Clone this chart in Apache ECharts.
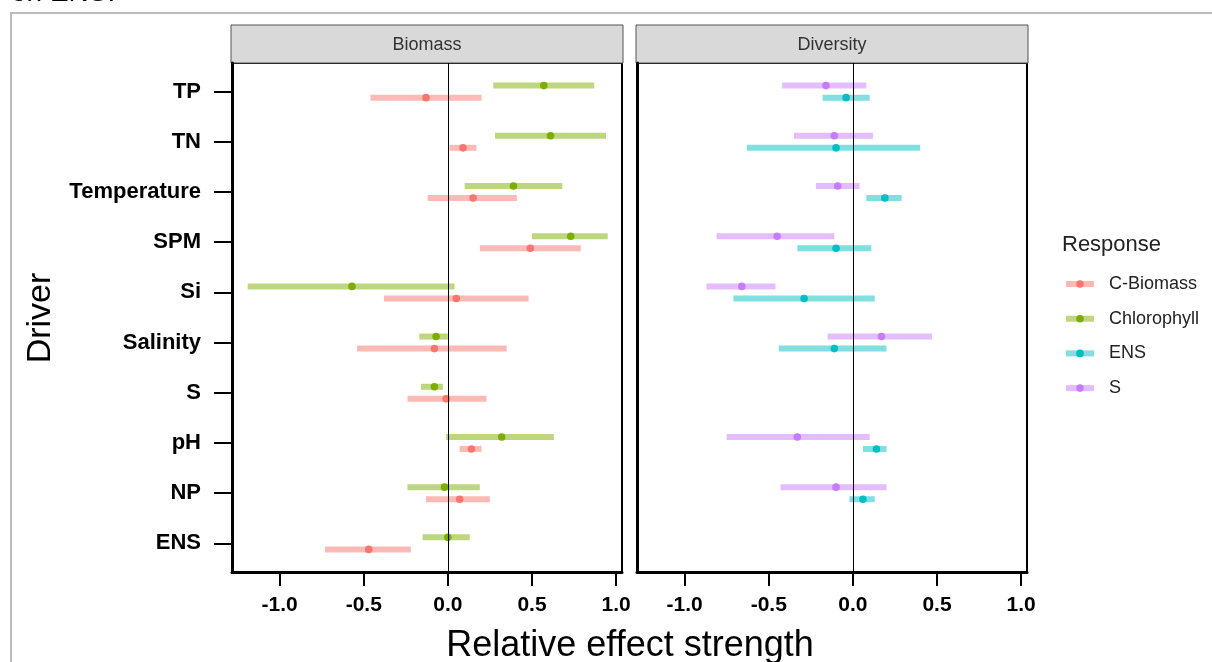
<!DOCTYPE html>
<html>
<head>
<meta charset="utf-8">
<script src="https://cdn.jsdelivr.net/npm/echarts@6/dist/echarts.min.js"></script>
<style>
  html, body { margin: 0; padding: 0; background: #fff; }
  #chart { width: 1212px; height: 662px; }
</style>
</head>
<body>
<div id="chart"></div>
<script>
// drivers, top to bottom
const drivers = ['TP', 'TN', 'Temperature', 'SPM', 'Si', 'Salinity', 'S', 'pH', 'NP', 'ENS']
const xTicks = [-1, -0.5, 0, 0.5, 1]

// Biomass panel
const cBiomassMid = [-0.13, 0.09, 0.15, 0.49, 0.05, -0.08, -0.01, 0.14, 0.07, -0.47]
const cBiomassLo = [-0.46, 0.01, -0.12, 0.19, -0.38, -0.54, -0.24, 0.07, -0.13, -0.73]
const cBiomassHi = [0.20, 0.17, 0.41, 0.79, 0.48, 0.35, 0.23, 0.20, 0.25, -0.22]
const chlMid = [0.57, 0.61, 0.39, 0.73, -0.57, -0.07, -0.08, 0.32, -0.02, 0.00]
const chlLo = [0.27, 0.28, 0.10, 0.50, -1.19, -0.17, -0.16, -0.01, -0.24, -0.15]
const chlHi = [0.87, 0.94, 0.68, 0.95, 0.04, 0.00, -0.03, 0.63, 0.19, 0.13]

// Diversity panel (no estimate for S and ENS as drivers)
const ensMid = [-0.04, -0.10, 0.19, -0.10, -0.29, -0.11, null, 0.14, 0.06, null]
const ensLo = [-0.18, -0.63, 0.08, -0.33, -0.71, -0.44, null, 0.06, -0.02, null]
const ensHi = [0.10, 0.40, 0.29, 0.11, 0.13, 0.20, null, 0.20, 0.13, null]
const sMid = [-0.16, -0.11, -0.09, -0.45, -0.66, 0.17, null, -0.33, -0.10, null]
const sLo = [-0.42, -0.35, -0.22, -0.81, -0.87, -0.15, null, -0.75, -0.43, null]
const sHi = [0.08, 0.12, 0.04, -0.11, -0.46, 0.47, null, 0.10, 0.20, null]

const responses = ['C-Biomass', 'Chlorophyll', 'ENS', 'S']
const colors = ['#F8766D', '#7CAE00', '#00BFC4', '#C77CFF']

const FONT = '"Liberation Sans", Arial, sans-serif'

const toItems = (lo, hi, mid, shift) => {
  const out = []
  mid.forEach((m, i) => {
    if (m === null) return
    out.push([lo[i], hi[i], m, i + shift])
  })
  return out
}

const makeSeries = (name, color, gridIdx, items, withZero) => {
  const s = {
    name,
    type: 'custom',
    xAxisIndex: gridIdx,
    yAxisIndex: gridIdx,
    encode: { x: [0, 1, 2], y: 3 },
    data: items,
    renderItem: (params, api) => {
      const y = api.value(3)
      const a = api.coord([api.value(0), y])
      const b = api.coord([api.value(1), y])
      const m = api.coord([api.value(2), y])
      return {
        type: 'group',
        children: [
          {
            type: 'line',
            shape: { x1: a[0], y1: a[1], x2: b[0], y2: b[1] },
            style: { stroke: color, lineWidth: 6, opacity: 0.5 },
          },
          {
            type: 'circle',
            shape: { cx: m[0], cy: m[1], r: 3.8 },
            style: { fill: color },
          },
        ],
      }
    },
  }
  if (withZero) {
    s.markLine = {
      silent: true,
      symbol: 'none',
      label: { show: false },
      lineStyle: { color: '#000', width: 1, type: 'solid' },
      data: [{ xAxis: 0 }],
    }
  }
  return s
}

const panelLeft = [232, 637]
const panelTop = 63
const panelW = 390
const panelH = 509

const xAxisFor = idx => ({
  type: 'value',
  gridIndex: idx,
  min: -1.283,
  max: 1.035,
  axisLine: { show: true, onZero: false, lineStyle: { color: '#000', width: 3 } },
  axisTick: { show: true, length: 14, customValues: xTicks, lineStyle: { color: '#000', width: 2 } },
  axisLabel: {
    customValues: xTicks,
    formatter: v => v.toFixed(1),
    color: '#000',
    fontFamily: FONT,
    fontWeight: 'bold',
    fontSize: 21,
    margin: 23,
  },
  splitLine: { show: false },
})

const yAxisFor = idx => ({
  type: 'value',
  gridIndex: idx,
  inverse: true,
  min: -0.57,
  max: 9.57,
  axisLine: { show: true, onZero: false, lineStyle: { color: '#000', width: 3 } },
  axisTick: {
    show: idx === 0,
    length: 18,
    customValues: drivers.map((d, i) => i),
    lineStyle: { color: '#000', width: 2 },
  },
  axisLabel: {
    show: idx === 0,
    customValues: drivers.map((d, i) => i),
    formatter: v => drivers[Math.round(v)],
    color: '#000',
    fontFamily: FONT,
    fontWeight: 'bold',
    fontSize: 22,
    margin: 31,
  },
  splitLine: { show: false },
})

const strips = ['Biomass', 'Diversity'].map((label, i) => ({
  type: 'group',
  children: [
    {
      type: 'rect',
      shape: { x: panelLeft[i] - 1, y: 25, width: panelW + 2, height: panelTop - 25 },
      style: { fill: '#d9d9d9', stroke: '#555', lineWidth: 1 },
    },
    {
      type: 'text',
      x: panelLeft[i] + panelW / 2,
      y: 45,
      style: {
        text: label,
        fill: '#333',
        font: '18px ' + FONT,
        align: 'center',
        verticalAlign: 'middle',
      },
    },
  ],
}))

const legendItems = responses.map((r, i) => {
  const y = 284 + i * 34.7
  return {
    type: 'group',
    children: [
      {
        type: 'line',
        shape: { x1: 1066, y1: y, x2: 1094, y2: y },
        style: { stroke: colors[i], lineWidth: 6, opacity: 0.5 },
      },
      { type: 'circle', shape: { cx: 1080, cy: y, r: 3.8 }, style: { fill: colors[i] } },
      {
        type: 'text',
        x: 1109,
        y: y,
        style: { text: r, fill: '#222', font: '18px ' + FONT, verticalAlign: 'middle' },
      },
    ],
  }
})

const chart = echarts.init(document.getElementById('chart'))
chart.setOption({
  animation: false,
  backgroundColor: '#fff',
  grid: panelLeft.map(left => ({
    left,
    top: panelTop,
    width: panelW,
    height: panelH,
    show: true,
    borderColor: '#000',
    borderWidth: 2,
    backgroundColor: '#fff',
  })),
  xAxis: [xAxisFor(0), xAxisFor(1)],
  yAxis: [yAxisFor(0), yAxisFor(1)],
  series: [
    makeSeries('Chlorophyll', colors[1], 0, toItems(chlLo, chlHi, chlMid, -0.12), true),
    makeSeries('C-Biomass', colors[0], 0, toItems(cBiomassLo, cBiomassHi, cBiomassMid, 0.12), false),
    makeSeries('S', colors[3], 1, toItems(sLo, sHi, sMid, -0.12), true),
    makeSeries('ENS', colors[2], 1, toItems(ensLo, ensHi, ensMid, 0.12), false),
  ],
  graphic: [
    {
      type: 'text',
      left: 11,
      top: -21,
      style: { text: 'on ENS.', fill: '#000', font: '28px ' + FONT },
    },
    {
      type: 'polyline',
      shape: { points: [[11, 662], [11, 13], [1212, 13]] },
      style: { stroke: '#bbb', lineWidth: 2, fill: null },
    },
    ...strips,
    {
      type: 'text',
      x: 41,
      y: 318,
      rotation: Math.PI / 2,
      style: { text: 'Driver', fill: '#000', font: '34px ' + FONT, align: 'center', verticalAlign: 'middle' },
    },
    {
      type: 'text',
      x: 630,
      y: 646,
      style: {
        text: 'Relative effect strength',
        fill: '#000',
        font: '36px ' + FONT,
        align: 'center',
        verticalAlign: 'middle',
      },
    },
    {
      type: 'text',
      x: 1062,
      y: 245,
      style: { text: 'Response', fill: '#222', font: '22px ' + FONT, verticalAlign: 'middle' },
    },
    ...legendItems,
  ],
})
window.addEventListener('resize', () => chart.resize())
</script>
</body>
</html>
